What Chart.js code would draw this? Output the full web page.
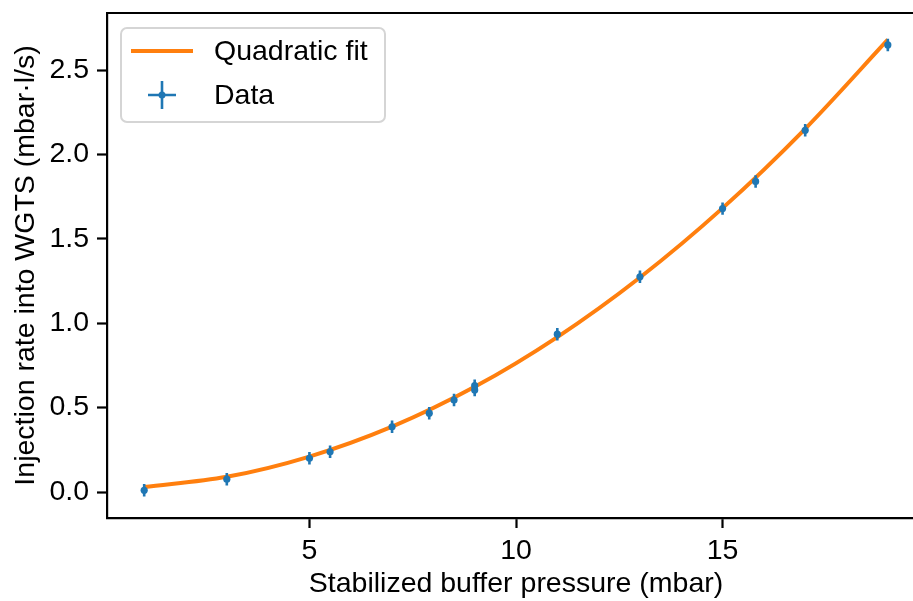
<!DOCTYPE html>
<html>
<head>
<meta charset="utf-8">
<script src="https://cdn.jsdelivr.net/npm/chart.js@4/dist/chart.umd.min.js"></script>
<style>
  html, body { margin: 0; padding: 0; background: #fff; overflow: hidden; }
  #wrap { width: 960px; height: 601px; }
</style>
</head>
<body>
<div id="wrap"><canvas id="fitChart" width="960" height="601"></canvas></div>
<script>
// measured points (buffer pressure in mbar, injection rate in mbar·l/s)
const pressure = [1.0, 3.0, 5.0, 5.5, 7.0, 7.9, 8.5, 9.0, 9.0, 11.0, 13.0, 15.0, 15.8, 17.0, 19.0];
const rate = [0.01, 0.076, 0.2, 0.238, 0.386, 0.467, 0.545, 0.605, 0.63, 0.935, 1.275, 1.679, 1.84, 2.143, 2.649];
const pressureErr = [0.05, 0.05, 0.05, 0.05, 0.05, 0.05, 0.05, 0.05, 0.05, 0.05, 0.05, 0.05, 0.05, 0.05, 0.05];
const rateErr = [0.037, 0.037, 0.037, 0.037, 0.037, 0.037, 0.037, 0.037, 0.037, 0.037, 0.037, 0.037, 0.037, 0.037, 0.037];

// quadratic fit curve
const fitPressure = [1, 3, 5, 7, 9, 11, 13, 15, 17, 19];
const fitRate = [0.03, 0.09, 0.21, 0.387, 0.623, 0.918, 1.271, 1.682, 2.152, 2.68];

const xTicks = [5, 10, 15];
const yTicks = [0.0, 0.5, 1.0, 1.5, 2.0, 2.5];

const BLUE = "#1f77b4";
const ORANGE = "#ff7f0e";
const FONT = "'Liberation Sans', Arial, Helvetica, sans-serif";

// error bars go between the fit line and the markers
const errorBars = {
    id: "errorBars",
    afterDatasetDraw(chart, args) {
        if (args.index !== 0) return;
        const { ctx, scales: { x, y } } = chart;
        ctx.save();
        ctx.strokeStyle = BLUE;
        ctx.lineWidth = 2.6;
        pressure.forEach((p, i) => {
            const px = x.getPixelForValue(p);
            const py = y.getPixelForValue(rate[i]);
            ctx.beginPath();
            ctx.moveTo(px, y.getPixelForValue(rate[i] - rateErr[i]));
            ctx.lineTo(px, y.getPixelForValue(rate[i] + rateErr[i]));
            ctx.moveTo(x.getPixelForValue(p - pressureErr[i]), py);
            ctx.lineTo(x.getPixelForValue(p + pressureErr[i]), py);
            ctx.stroke();
        });
        ctx.restore();
    },
};

// top spine (the right one is cropped off in the original) + legend box
const frameAndLegend = {
    id: "frameAndLegend",
    afterDraw(chart) {
        const { ctx, chartArea: a } = chart;
        ctx.save();
        ctx.strokeStyle = "#000";
        ctx.lineWidth = 2.2;
        ctx.beginPath();
        ctx.moveTo(a.left, a.top);
        ctx.lineTo(a.right, a.top);
        ctx.stroke();

        const bx = a.left + 14, by = a.top + 15, bw = 264, bh = 94;
        ctx.beginPath();
        ctx.roundRect(bx, by, bw, bh, 6);
        ctx.fillStyle = "rgba(255,255,255,0.8)";
        ctx.fill();
        ctx.strokeStyle = "#d5d5d5";
        ctx.lineWidth = 2;
        ctx.stroke();

        // fit entry
        ctx.strokeStyle = ORANGE;
        ctx.lineWidth = 4;
        ctx.beginPath();
        ctx.moveTo(bx + 10, by + 23);
        ctx.lineTo(bx + 72, by + 23);
        ctx.stroke();

        // data entry
        const cx = bx + 41, cy = by + 67;
        ctx.strokeStyle = BLUE;
        ctx.lineWidth = 2.6;
        ctx.beginPath();
        ctx.moveTo(cx - 14, cy);
        ctx.lineTo(cx + 14, cy);
        ctx.moveTo(cx, cy - 14);
        ctx.lineTo(cx, cy + 14);
        ctx.stroke();
        ctx.fillStyle = BLUE;
        ctx.beginPath();
        ctx.arc(cx, cy, 3.5, 0, Math.PI * 2);
        ctx.fill();

        ctx.fillStyle = "#000";
        ctx.font = "28.5px " + FONT;
        ctx.textBaseline = "middle";
        ctx.fillText("Quadratic fit", bx + 93, by + 24);
        ctx.fillText("Data", bx + 93, by + 68);
        ctx.restore();
    },
};

new Chart(document.getElementById("fitChart"), {
    type: "scatter",
    data: {
        datasets: [
            {
                label: "Quadratic fit",
                type: "line",
                data: fitPressure.map((p, i) => ({ x: p, y: fitRate[i] })),
                borderColor: ORANGE,
                borderWidth: 4,
                pointRadius: 0,
                cubicInterpolationMode: "monotone",
                fill: false,
                order: 2,
            },
            {
                label: "Data",
                data: pressure.map((p, i) => ({ x: p, y: rate[i] })),
                backgroundColor: BLUE,
                borderColor: BLUE,
                pointRadius: 3.6,
                borderWidth: 0,
                order: 1,
            },
        ],
    },
    options: {
        responsive: false,
        animation: false,
        // plot area runs past the 913px window, so the right edge is cropped like the original
        layout: { padding: { top: 13, right: 35, left: 0, bottom: 0 } },
        plugins: {
            legend: { display: false },
            tooltip: { enabled: false },
        },
        scales: {
            x: {
                type: "linear",
                min: 0.1,
                max: 19.9,
                afterBuildTicks: (s) => { s.ticks = xTicks.map((v) => ({ value: v })); },
                afterFit: (s) => { s.height = 83; },
                grid: { drawOnChartArea: false, tickLength: 10, tickWidth: 2.2, tickColor: "#000" },
                border: { color: "#000", width: 2.2 },
                ticks: { color: "#000", font: { family: FONT, size: 28.5 }, padding: 6, maxRotation: 0 },
                title: {
                    display: true,
                    text: "Stabilized buffer pressure (mbar)",
                    color: "#000",
                    font: { family: FONT, size: 28.5 },
                    padding: { top: 5, bottom: 0 },
                },
            },
            y: {
                type: "linear",
                min: -0.154,
                max: 2.838,
                afterBuildTicks: (s) => { s.ticks = yTicks.map((v) => ({ value: v })); },
                afterFit: (s) => { s.width = 107; s.paddingTop = 0; s.paddingBottom = 0; },
                grid: { drawOnChartArea: false, tickLength: 10, tickWidth: 2.2, tickColor: "#000" },
                border: { color: "#000", width: 2.2 },
                ticks: {
                    color: "#000",
                    font: { family: FONT, size: 28.5 },
                    padding: 8,
                    callback: (v) => Number(v).toFixed(1),
                },
                title: {
                    display: true,
                    text: "Injection rate into WGTS (mbar·l/s)",
                    color: "#000",
                    font: { family: FONT, size: 28.5 },
                    padding: { top: 9, bottom: 0 },
                },
            },
        },
    },
    plugins: [errorBars, frameAndLegend],
});
</script>
</body>
</html>
